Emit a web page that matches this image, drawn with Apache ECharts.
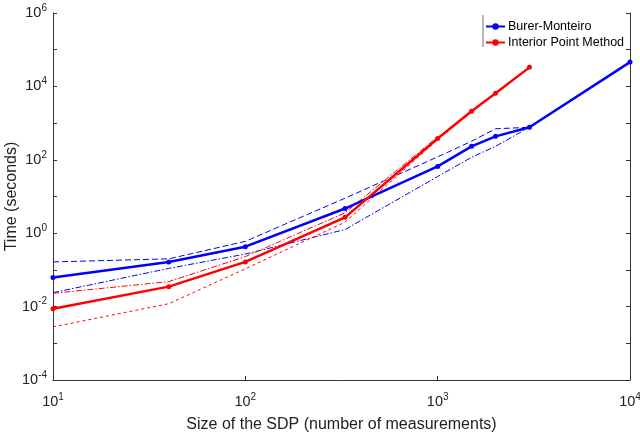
<!DOCTYPE html>
<html>
<head>
<meta charset="utf-8">
<script src="https://cdn.jsdelivr.net/npm/echarts@6/dist/echarts.min.js"></script>
<style>html,body{margin:0;padding:0;background:#fff;}#c{width:640px;height:435px;}</style>
</head>
<body>
<div id="c"></div>
<script>
// ---- data ----
const bmSizes   = [10, 40, 100, 330, 1000, 1500, 2000, 3000, 10000];
const bmTime    = [0.062, 0.165, 0.43, 4.7, 66, 233, 435, 770, 46000];
const bmBandSizes = [10, 40, 100, 330, 1000, 1500, 2000, 3000];
const bmUpper   = [0.165, 0.2, 0.6, 9, 120, 320, 700, 770];
const bmLower   = [0.024, 0.11, 0.27, 1.26, 35, 117, 233, 770];

const ipmSizes  = [10, 40, 100, 330, 1000, 1500, 2000, 3000];
const ipmTime   = [0.0087, 0.035, 0.165, 2.7, 382, 2100, 6500, 33000];
const ipmBandSizes = [10, 40, 100, 330, 1000];
const ipmUpper  = [0.023, 0.048, 0.23, 3.6, 420];
const ipmLower  = [0.0028, 0.012, 0.107, 2.0, 350];

const seriesNames = ['Burer-Monteiro', 'Interior Point Method'];
const xLabel = 'Size of the SDP (number of measurements)';
const yLabel = 'Time (seconds)';

const FONT = 'Liberation Sans, Arial, Helvetica, sans-serif';
const zip = (xs, ys) => xs.map((x, i) => [x, ys[i]]);

function powLabel(v, showOdd) {
  const e = Math.round(Math.log10(v));
  if (!showOdd && e % 2 !== 0) return '';
  return '{b|10}{s|' + e + '}';
}
const rich = {
  b: {fontSize: 14.5, fontFamily: FONT, color: '#222'},
  s: {fontSize: 10, fontFamily: FONT, color: '#222', verticalAlign: 'top', padding: [0,0,10,0]}
};

const chart = echarts.init(document.getElementById('c'), null, {renderer: 'canvas'});
const band = (name, xs, ys, color, dash) => ({
  name: name, type: 'line', data: zip(xs, ys), symbol: 'none', silent: true,
  lineStyle: {color: color, width: 1, type: dash}, z: 1
});
chart.setOption({
  animation: false,
  grid: {left: 53, right: 10, top: 13, bottom: 55, outerBoundsMode: 'none', containLabel: false},
  legend: {
    data: seriesNames, orient: 'vertical', left: 480, top: 15,
    itemWidth: 19, itemHeight: 8, itemGap: 3,
    textStyle: {fontFamily: FONT, fontSize: 12.5, color: '#000', padding: [0,0,0,-2]}
  },
  graphic: [{type: 'line', shape: {x1: 483, y1: 15, x2: 483, y2: 47},
             style: {stroke: '#888', lineWidth: 1.2}}],
  xAxis: {
    type: 'log', logBase: 10, min: 10, max: 10000,
    name: xLabel, nameLocation: 'middle', nameGap: 37, nameMoveOverlap: false,
    nameTextStyle: {fontFamily: FONT, fontSize: 16, color: '#222'},
    axisLine: {lineStyle: {color: '#333', width: 1}},
    axisTick: {inside: true, length: 4, lineStyle: {color: '#333'}},
    minorTick: {show: false},
    splitLine: {show: false},
    axisLabel: {formatter: v => powLabel(v, true), rich: rich, margin: 12}
  },
  yAxis: [{
    type: 'log', logBase: 10, min: 1e-4, max: 1e6, interval: 1,
    name: yLabel, nameLocation: 'middle', nameGap: 33, nameMoveOverlap: false,
    nameTextStyle: {fontFamily: FONT, fontSize: 16, color: '#222'},
    axisLine: {show: true, lineStyle: {color: '#333', width: 1}},
    axisTick: {inside: true, length: 4, lineStyle: {color: '#333'}},
    splitLine: {show: false},
    axisLabel: {formatter: v => powLabel(v, false), rich: rich, margin: 6}
  }, {
    type: 'log', logBase: 10, min: 1e-4, max: 1e6, interval: 1, position: 'right',
    axisLine: {show: true, lineStyle: {color: '#333', width: 1}},
    axisTick: {inside: true, length: 4, lineStyle: {color: '#333'}},
    axisLabel: {show: false}, splitLine: {show: false}
  }],
  series: [
    band('bmU', bmBandSizes, bmUpper, '#0000ff', [6, 3]),
    band('bmL', bmBandSizes, bmLower, '#0000ff', [6, 2, 1.5, 2]),
    band('ipmU', ipmBandSizes, ipmUpper, '#ff0000', [6, 2, 1.5, 2]),
    band('ipmL', ipmBandSizes, ipmLower, '#ff0000', [3, 3]),
    {name: seriesNames[0], type: 'line', data: zip(bmSizes, bmTime), symbol: 'circle', symbolSize: 5,
     itemStyle: {color: '#0000ff'}, lineStyle: {color: '#0000ff', width: 2.5}, z: 3},
    {name: seriesNames[1], type: 'line', data: zip(ipmSizes, ipmTime), symbol: 'circle', symbolSize: 5,
     itemStyle: {color: '#ff0000'}, lineStyle: {color: '#ff0000', width: 2.5}, z: 3}
  ]
});
</script>
</body>
</html>
